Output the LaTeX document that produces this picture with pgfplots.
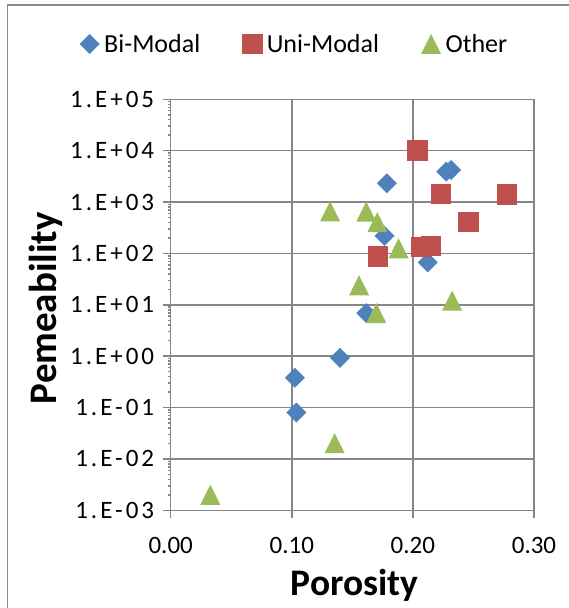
\documentclass[border=0pt]{standalone}
\usepackage{fontspec}
\setmainfont{Carlito}
\usepackage{pgfplots}
\pgfplotsset{compat=1.18}
\usepackage{pgfplotstable}

\definecolor{bimodal}{HTML}{4F81BD}
\definecolor{unimodal}{HTML}{C0504D}
\definecolor{other}{HTML}{9BBB59}
\definecolor{gridgray}{HTML}{868686}
\definecolor{framegray}{HTML}{8C8C8C}

% Spreadsheet-style markers: a square turned on its corner, and a triangle
% that fills a square box centred on the data point.
\pgfdeclareplotmark{xdiamond}{%
  \pgfpathmoveto{\pgfqpoint{0pt}{\pgfplotmarksize}}%
  \pgfpathlineto{\pgfqpoint{\pgfplotmarksize}{0pt}}%
  \pgfpathlineto{\pgfqpoint{0pt}{-\pgfplotmarksize}}%
  \pgfpathlineto{\pgfqpoint{-\pgfplotmarksize}{0pt}}%
  \pgfpathclose\pgfusepathqfill}
\pgfdeclareplotmark{xtriangle}{%
  \pgfpathmoveto{\pgfqpoint{0pt}{\pgfplotmarksize}}%
  \pgfpathlineto{\pgfqpoint{\pgfplotmarksize}{-\pgfplotmarksize}}%
  \pgfpathlineto{\pgfqpoint{-\pgfplotmarksize}{-\pgfplotmarksize}}%
  \pgfpathclose\pgfusepathqfill}

% legend sample: one mark with a little room after it
\pgfplotsset{xlegend/.style={legend image code/.code={%
  \path (-1.5pt,0pt) -- (21pt,0pt);
  \draw[mark repeat=2,mark phase=2,##1]
    plot coordinates {(0pt,0pt) (8.5pt,0pt) (17pt,0pt)};}}}

\pgfplotstableread{
por perm
0.1785 2320
0.2275 3900
0.2316 4200
0.1766 219
0.2123 67
0.1615 6.9
0.1398 0.93
0.1025 0.38
0.1038 0.080
}\bimodaldata

\pgfplotstableread{
por perm
0.2036 10300
0.2228 1460
0.2774 1420
0.2456 410
0.2069 135
0.2145 140
0.1709 89
}\unimodaldata

\pgfplotstableread{
por perm
0.1316 660
0.1615 650
0.1706 405
0.1882 126
0.1555 24
0.2324 12.1
0.1698 6.9
0.1354 0.0203
0.0327 0.0020
}\otherdata

\begin{document}
\begin{tikzpicture}
\useasboundingbox (-170.7pt,-97.7pt) rectangle (397.3pt,510.3pt);
% chart frame
\draw[framegray, line width=1.2pt] (-163.4pt,-110pt) -- (-163.4pt,505.3pt) -- (410pt,505.3pt);
\begin{axis}[
  at={(0pt,0pt)}, anchor=south west,
  scale only axis,
  width=363.3pt, height=411pt,
  xmin=0, xmax=0.3,
  ymode=log, ymin=1e-3, ymax=1e5,
  xtick={0,0.1,0.2,0.3},
  xticklabels={0.00,0.10,0.20,0.30},
  ytick={1e-3,1e-2,1e-1,1e0,1e1,1e2,1e3,1e4,1e5},
  yticklabels={1.E-03,1.E-02,1.E-01,1.E+00,1.E+01,1.E+02,1.E+03,1.E+04,1.E+05},
  minor ytick={},
  /pgf/number format/assume math mode=true,
  ticklabel style={font=\fontsize{25}{30}\selectfont, text=black},
  xticklabel style={yshift=-15pt},
  yticklabel style={font=\fontsize{25}{30}\selectfont\addfontfeature{LetterSpace=12}, xshift=-5pt},
  xtick pos=bottom, ytick pos=left,
  tick align=outside,
  major tick length=8pt,
  tick style={gridgray, line width=1.5pt},
  axis line style={gridgray, line width=1.5pt},
  grid=major,
  major grid style={gridgray, line width=1.5pt},
  xlabel={Porosity},
  ylabel={Pemeability},
  xlabel style={font=\bfseries\fontsize{37.5}{40}\selectfont,
    at={(axis description cs:0.506,-0.183)}, anchor=center},
  ylabel style={font=\bfseries\fontsize{39}{44}\selectfont,
    at={(axis description cs:-0.343,0.492)}, anchor=center},
  legend columns=3,
  legend style={draw=none, fill=none, font=\fontsize{26}{30}\selectfont,
    at={(axis description cs:-0.251,1.1346)}, anchor=west, inner sep=0pt,
    /tikz/every even column/.append style={column sep=40pt}},
  clip=false,
]
\addplot[only marks, xlegend, mark=xdiamond, mark size=10pt, bimodal, draw=none, fill=bimodal]
  table[x=por, y=perm] {\bimodaldata};
\addlegendentry{Bi-Modal}
\addplot[only marks, xlegend, mark=square*, mark size=9.7pt, unimodal, draw=none, fill=unimodal]
  table[x=por, y=perm] {\unimodaldata};
\addlegendentry{Uni-Modal}
\addplot[only marks, xlegend, mark=xtriangle, mark size=10pt, other, draw=none, fill=other]
  table[x=por, y=perm] {\otherdata};
\addlegendentry{Other}
\end{axis}
\end{tikzpicture}
\end{document}
